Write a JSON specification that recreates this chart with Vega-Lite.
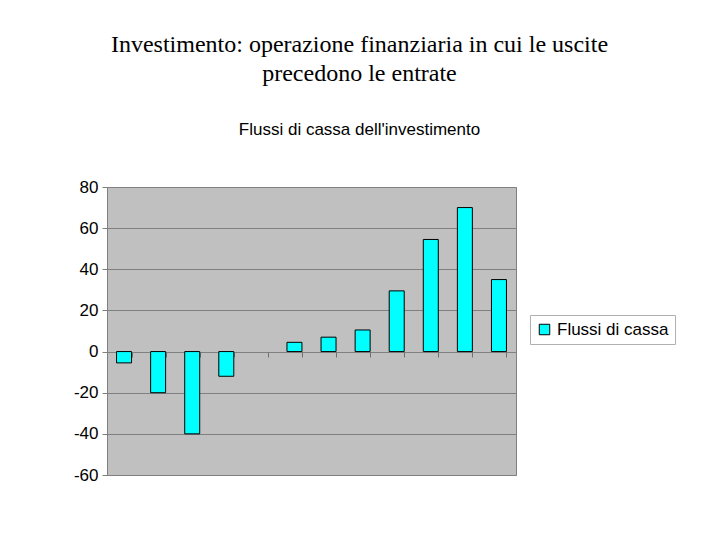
{
  "$schema": "https://vega.github.io/schema/vega-lite/v6.json",
  "width": 409,
  "height": 288,
  "autosize": {"type": "none"},
  "padding": {"left": 107, "top": 187, "right": 204, "bottom": 65},
  "background": "white",
  "title": {
    "text": ["Investimento: operazione finanziaria in cui le uscite", "precedono le entrate"],
    "subtitle": "Flussi di cassa dell'investimento",
    "anchor": "middle",
    "frame": "group",
    "dx": 48,
    "offset": 40,
    "font": "Liberation Serif",
    "fontSize": 24,
    "fontWeight": "normal",
    "color": "black",
    "lineHeight": 29,
    "subtitleFont": "Liberation Sans",
    "subtitleFontSize": 17,
    "subtitleColor": "black",
    "subtitlePadding": 36
  },
  "data": {
    "values": [
      {"periodo": 1, "flusso": -5.5, "serie": "Flussi di cassa"},
      {"periodo": 2, "flusso": -20, "serie": "Flussi di cassa"},
      {"periodo": 3, "flusso": -40, "serie": "Flussi di cassa"},
      {"periodo": 4, "flusso": -12, "serie": "Flussi di cassa"},
      {"periodo": 5, "flusso": null, "serie": "Flussi di cassa"},
      {"periodo": 6, "flusso": 4.5, "serie": "Flussi di cassa"},
      {"periodo": 7, "flusso": 7, "serie": "Flussi di cassa"},
      {"periodo": 8, "flusso": 10.5, "serie": "Flussi di cassa"},
      {"periodo": 9, "flusso": 29.5, "serie": "Flussi di cassa"},
      {"periodo": 10, "flusso": 54.5, "serie": "Flussi di cassa"},
      {"periodo": 11, "flusso": 70, "serie": "Flussi di cassa"},
      {"periodo": 12, "flusso": 35, "serie": "Flussi di cassa"}
    ]
  },
  "mark": {"type": "bar", "stroke": "black", "strokeWidth": 1},
  "encoding": {
    "x": {
      "field": "periodo",
      "type": "ordinal",
      "scale": {
        "domain": [1, 2, 3, 4, 5, 6, 7, 8, 9, 10, 11, 12],
        "paddingInner": 0.56,
        "paddingOuter": 0.28
      },
      "axis": {
        "title": null,
        "labels": false,
        "domain": false,
        "offset": -123,
        "tickBand": "extent",
        "ticks": true,
        "tickSize": 5,
        "tickWidth": 1,
        "tickColor": "#707070",
        "grid": false
      }
    },
    "y": {
      "field": "flusso",
      "type": "quantitative",
      "scale": {"domain": [-60, 80], "nice": false},
      "axis": {
        "title": null,
        "values": [-60, -40, -20, 0, 20, 40, 60, 80],
        "labelExpr": "'' + datum.value",
        "labelFont": "Liberation Sans",
        "labelFontSize": 17,
        "labelColor": "black",
        "labelPadding": 4,
        "tickSize": 5,
        "tickColor": "#808080",
        "domainColor": "#808080",
        "gridColor": "#808080",
        "gridOpacity": 1
      }
    },
    "fill": {
      "field": "serie",
      "type": "nominal",
      "scale": {"range": ["#00ffff"]},
      "legend": {
        "title": null,
        "orient": "none",
        "legendX": 423,
        "legendY": 128,
        "symbolType": "square",
        "symbolSize": 110,
        "symbolStrokeColor": "black",
        "symbolStrokeWidth": 1,
        "labelFont": "Liberation Sans",
        "labelFontSize": 17,
        "labelColor": "black",
        "strokeColor": "#b0b0b0",
        "padding": 6,
        "fillColor": "white"
      }
    }
  },
  "config": {
    "view": {"fill": "#c0c0c0", "stroke": "#808080", "strokeWidth": 1}
  }
}
